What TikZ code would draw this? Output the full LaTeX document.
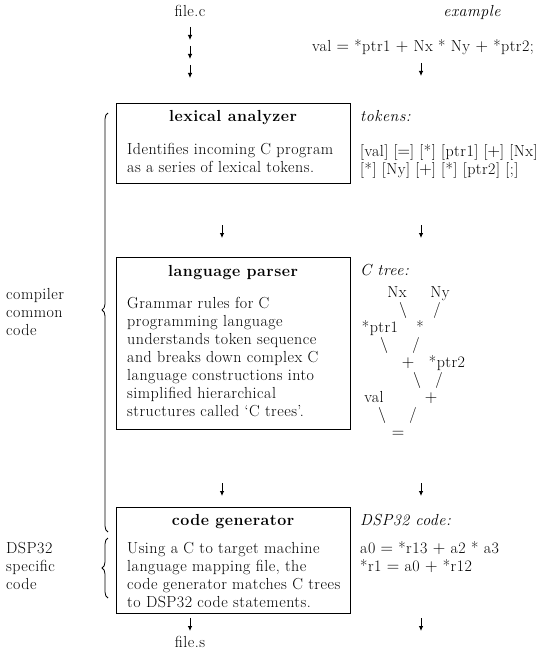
\documentclass[tikz,border=0pt]{standalone}
\usepackage{fontspec}
\setmainfont{Latin Modern Roman}[LetterSpace=3]
\usetikzlibrary{arrows.meta,decorations.pathreplacing}
\newcommand{\mainfs}{\fontsize{16}{18}\selectfont}
\begin{document}
\begin{tikzpicture}[x=1pt,y=-1pt,
  every node/.style={font=\mainfs,inner sep=0pt},
  txt/.style={anchor=base west},
  ctxt/.style={anchor=base},
  procbox/.style={draw,line width=0.8pt,anchor=north west},
  downarr/.style={line width=0.8pt,-{Latex[length=5pt,width=4.5pt]}},
  bracest/.style={decorate,decoration={brace,amplitude=6pt,aspect=#1},line width=0.8pt}]
\useasboundingbox (0,0) rectangle (554,652);
% top left
\node[ctxt] (filec) at (190,17) {file.c};
\coordinate (a1s) at (190,27); \coordinate (a1e) at (190,40);
\coordinate (a2s) at (190,46); \coordinate (a2e) at (190,59);
\coordinate (a3s) at (190,65); \coordinate (a3e) at (190,78);
\draw[downarr] (a1s) -- (a1e);
\draw[downarr] (a2s) -- (a2e);
\draw[downarr] (a3s) -- (a3e);
% top right
\node[ctxt] (example) at (472,17) {\itshape example};
\node[ctxt] (valline) at (423,52) {val $=$ *ptr1 $+$ Nx * Ny $+$ *ptr2;};
\coordinate (b1s) at (421,63); \coordinate (b1e) at (421,76);
\draw[downarr] (b1s) -- (b1e);
% box 1
\node[procbox,minimum width=234pt,minimum height=80pt] (lexbox) at (116,103) {};
\node[ctxt] (lextitle) at (233,122) {\bfseries lexical analyzer};
\node[txt] (lex1) at (127,155) {Identifies incoming C program};
\node[txt] (lex2) at (127,173) {as a series of lexical tokens.};
\node[txt] (tokens) at (360,122) {\itshape tokens:};
\node[txt] (tok1) at (360,157) {[val] [$=$] [*] [ptr1] [$+$] [Nx]};
\node[txt] (tok2) at (360,175) {[*] [Ny] [$+$] [*] [ptr2] [;]};
\coordinate (m1s) at (222,225); \coordinate (m1e) at (222,238);
\coordinate (r1s) at (421,225); \coordinate (r1e) at (421,238);
\draw[downarr] (m1s) -- (m1e);
\draw[downarr] (r1s) -- (r1e);
% box 2
\node[procbox,minimum width=234pt,minimum height=172pt] (parbox) at (116,257) {};
\node[ctxt] (partitle) at (233,276) {\bfseries language parser};
\node[txt] (par1) at (127,308) {Grammar rules for C};
\node[txt] (par2) at (127,326) {programming language};
\node[txt] (par3) at (127,344) {understands token sequence};
\node[txt] (par4) at (127,362) {and breaks down complex C};
\node[txt] (par5) at (127,380) {language constructions into};
\node[txt] (par6) at (127,398) {simplified hierarchical};
\node[txt] (par7) at (127,416) {structures called `C trees'.};
% C tree
\node[txt] (ctree) at (360,275) {\itshape C tree:};
\node[ctxt] (nx) at (397,297) {Nx};
\node[ctxt] (ny) at (440,297) {Ny};
\node[ctxt] (e1) at (403,314) {\textbackslash};
\node[ctxt] (e2) at (437,314) {/};
\node[ctxt] (ptra) at (380,332) {*ptr1};
\node[ctxt] (mul) at (420,332) {*};
\node[ctxt] (e3) at (384,349) {\textbackslash};
\node[ctxt] (e4) at (416,349) {/};
\node[ctxt] (plusa) at (408,367) {$+$};
\node[ctxt] (ptrb) at (447,367) {*ptr2};
\node[ctxt] (e5) at (417,384) {\textbackslash};
\node[ctxt] (e6) at (439,384) {/};
\node[ctxt] (val) at (374,402) {val};
\node[ctxt] (plusb) at (431,402) {$+$};
\node[ctxt] (e7) at (382,419) {\textbackslash};
\node[ctxt] (e8) at (413,419) {/};
\node[ctxt] (eq) at (398,437) {$=$};
\coordinate (m2s) at (222,483); \coordinate (m2e) at (222,496);
\coordinate (r2s) at (421,483); \coordinate (r2e) at (421,496);
\draw[downarr] (m2s) -- (m2e);
\draw[downarr] (r2s) -- (r2e);
% box 3
\node[procbox,minimum width=234pt,minimum height=106pt] (genbox) at (116,507) {};
\node[ctxt] (gentitle) at (233,525) {\bfseries code generator};
\node[txt] (gen1) at (127,553) {Using a C to target machine};
\node[txt] (gen2) at (127,571) {language mapping file, the};
\node[txt] (gen3) at (127,589) {code generator matches C trees};
\node[txt] (gen4) at (127,607) {to DSP32 code statements.};
\node[txt] (dsplab) at (360,525) {\itshape DSP32 code:};
\node[txt] (dsp1) at (360,553) {a0 $=$ *r13 $+$ a2 * a3};
\node[txt] (dsp2) at (360,571) {*r1 $=$ a0 $+$ *r12};
\coordinate (m3s) at (190,618); \coordinate (m3e) at (190,631);
\coordinate (r3s) at (421,618); \coordinate (r3e) at (421,631);
\draw[downarr] (m3s) -- (m3e);
\draw[downarr] (r3s) -- (r3e);
\node[ctxt] (files) at (190,647) {file.s};
% left labels and braces
\node[txt] (comp1) at (6,299) {compiler};
\node[txt] (comp2) at (6,317) {common};
\node[txt] (comp3) at (6,335) {code};
\node[txt] (dspa) at (6,553) {DSP32};
\node[txt] (dspb) at (6,571) {specific};
\node[txt] (dspc) at (6,589) {code};
\coordinate (br1b) at (108,532); \coordinate (br1t) at (108,113);
\coordinate (br2b) at (108,598); \coordinate (br2t) at (108,538);
\draw[bracest=0.53] (br1b) -- (br1t);
\draw[bracest=0.5] (br2b) -- (br2t);
\end{tikzpicture}
\end{document}
